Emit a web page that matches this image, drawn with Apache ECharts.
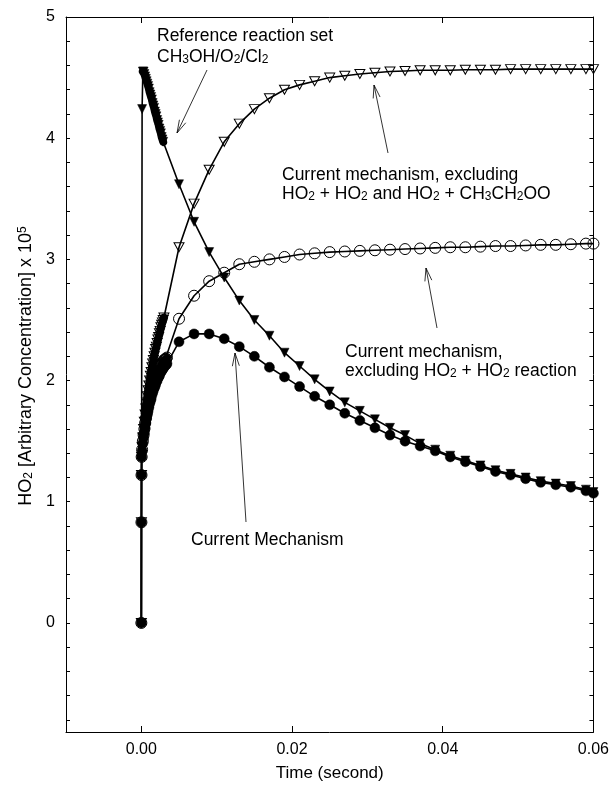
<!DOCTYPE html>
<html>
<head>
<meta charset="utf-8">
<script src="https://cdn.jsdelivr.net/npm/echarts@6/dist/echarts.min.js"></script>
<style>
html,body{margin:0;padding:0;background:#fff;}
#chart{width:612px;height:787px;}
</style>
</head>
<body>
<div id="chart"></div>
<script>
// ---------- DATA ----------
// Reference reaction set CH3OH/O2/Cl2 (filled down-triangles)
const tRef = [0, 0.0001, 0.0002,
  0.0003, 0.0004, 0.0005, 0.0006, 0.0007, 0.0008, 0.0009, 0.0010, 0.0011, 0.0012, 0.0013, 0.0014, 0.0015, 0.0016,
  0.0017, 0.0018, 0.0019, 0.0020, 0.0021, 0.0022, 0.0023, 0.0024, 0.0025, 0.0026, 0.0027, 0.0028, 0.0029,
  0.005, 0.007, 0.009, 0.011, 0.013, 0.015, 0.017, 0.019, 0.021, 0.023, 0.025, 0.027, 0.029, 0.031, 0.033, 0.035, 0.037, 0.039,
  0.041, 0.043, 0.045, 0.047, 0.049, 0.051, 0.053, 0.055, 0.057, 0.059, 0.06];
const vRef = [0, 4.24, 4.55,
  4.55, 4.53, 4.51, 4.49, 4.47, 4.45, 4.43, 4.41, 4.38, 4.36, 4.34, 4.32, 4.29, 4.27,
  4.25, 4.22, 4.20, 4.18, 4.15, 4.13, 4.11, 4.08, 4.06, 4.04, 4.01, 3.99, 3.97,
  3.62, 3.31, 3.06, 2.85, 2.66, 2.50, 2.37, 2.23, 2.12, 2.01, 1.91, 1.82, 1.75, 1.68, 1.61, 1.55, 1.48, 1.43,
  1.38, 1.34, 1.30, 1.26, 1.23, 1.20, 1.17, 1.15, 1.13, 1.10, 1.08];

// Current mechanism, excluding HO2+HO2 and HO2+CH3CH2OO (open down-triangles)
const tNoBoth = [0, 0.00001, 0.00002, 0.00004,
  0.0001, 0.0002, 0.0003, 0.0004, 0.0005, 0.0006, 0.0007, 0.0008, 0.0009, 0.0010, 0.0011, 0.0012, 0.0013, 0.0014, 0.0015,
  0.0016, 0.0017, 0.0018, 0.0019, 0.0020, 0.0021, 0.0022, 0.0023, 0.0024, 0.0025, 0.0026, 0.0027, 0.0028, 0.0029, 0.0030,
  0.005, 0.007, 0.009, 0.011, 0.013, 0.015, 0.017, 0.019, 0.021, 0.023, 0.025, 0.027, 0.029, 0.031, 0.033, 0.035, 0.037, 0.039,
  0.041, 0.043, 0.045, 0.047, 0.049, 0.051, 0.053, 0.055, 0.057, 0.059, 0.06];
const vNoBoth = [0, 0.83, 1.22, 1.37,
  1.45, 1.53, 1.60, 1.66, 1.72, 1.77, 1.82, 1.87, 1.92, 1.96, 2.00, 2.04, 2.07, 2.11, 2.14,
  2.17, 2.20, 2.23, 2.26, 2.28, 2.31, 2.34, 2.36, 2.39, 2.41, 2.44, 2.46, 2.48, 2.50, 2.52,
  3.10, 3.46, 3.74, 3.97, 4.12, 4.24, 4.33, 4.40, 4.44, 4.47, 4.50, 4.515, 4.53, 4.54, 4.55, 4.555, 4.56, 4.56,
  4.56, 4.565, 4.565, 4.565, 4.57, 4.57, 4.57, 4.57, 4.57, 4.57, 4.57];

// Current mechanism, excluding HO2+HO2 reaction (open circles)
const tNoSelf = [0, 0.00001, 0.00002, 0.00004,
  0.0001, 0.0002, 0.0003, 0.0004, 0.0005, 0.0006, 0.0007, 0.0008, 0.0009, 0.0010, 0.0011, 0.0012, 0.0013, 0.0014, 0.0015,
  0.0016, 0.0017, 0.0018, 0.0019, 0.0020, 0.0021, 0.0022, 0.0023, 0.0024, 0.0025, 0.0026, 0.0027, 0.0028, 0.0029, 0.0030,
  0.0031, 0.0032, 0.0033, 0.0034,
  0.005, 0.007, 0.009, 0.011, 0.013, 0.015, 0.017, 0.019, 0.021, 0.023, 0.025, 0.027, 0.029, 0.031, 0.033, 0.035, 0.037, 0.039,
  0.041, 0.043, 0.045, 0.047, 0.049, 0.051, 0.053, 0.055, 0.057, 0.059, 0.06];
const vNoSelf = [0, 0.83, 1.22, 1.37,
  1.43, 1.50, 1.55, 1.60, 1.65, 1.69, 1.73, 1.77, 1.80, 1.83, 1.86, 1.89, 1.91, 1.94, 1.96,
  1.98, 2.00, 2.02, 2.03, 2.05, 2.07, 2.08, 2.10, 2.11, 2.12, 2.13, 2.14, 2.15, 2.16, 2.17,
  2.17, 2.18, 2.18, 2.19,
  2.51, 2.70, 2.82, 2.89, 2.96, 2.98, 3.00, 3.02, 3.04, 3.05, 3.06, 3.065, 3.07, 3.075, 3.08, 3.085, 3.09, 3.095,
  3.10, 3.10, 3.105, 3.11, 3.11, 3.115, 3.12, 3.12, 3.125, 3.13, 3.13];

// Current Mechanism (filled circles)
const tCur = [0, 0.00001, 0.00002, 0.00004,
  0.0001, 0.0002, 0.0003, 0.0004, 0.0005, 0.0006, 0.0007, 0.0008, 0.0009, 0.0010, 0.0011, 0.0012, 0.0013, 0.0014, 0.0015,
  0.0016, 0.0017, 0.0018, 0.0019, 0.0020, 0.0021, 0.0022, 0.0023, 0.0024, 0.0025, 0.0026, 0.0027, 0.0028, 0.0029, 0.0030,
  0.0031, 0.0032, 0.0033, 0.0034,
  0.005, 0.007, 0.009, 0.011, 0.013, 0.015, 0.017, 0.019, 0.021, 0.023, 0.025, 0.027, 0.029, 0.031, 0.033, 0.035, 0.037, 0.039,
  0.041, 0.043, 0.045, 0.047, 0.049, 0.051, 0.053, 0.055, 0.057, 0.059, 0.06];
const vCur = [0, 0.83, 1.22, 1.37,
  1.42, 1.48, 1.53, 1.57, 1.61, 1.65, 1.69, 1.72, 1.75, 1.78, 1.81, 1.83, 1.85, 1.88, 1.90,
  1.92, 1.94, 1.95, 1.97, 1.99, 2.00, 2.02, 2.03, 2.04, 2.06, 2.07, 2.08, 2.09, 2.10, 2.11,
  2.12, 2.13, 2.13, 2.14,
  2.32, 2.385, 2.385, 2.345, 2.28, 2.20, 2.11, 2.03, 1.95, 1.87, 1.80, 1.73, 1.67, 1.61, 1.55, 1.50, 1.46, 1.42,
  1.37, 1.33, 1.29, 1.25, 1.22, 1.19, 1.16, 1.14, 1.12, 1.09, 1.07];

// Axis ticks / labels
const xLabelValues = [0, 0.02, 0.04, 0.06];
const xTickValues = [0, 0.02, 0.04, 0.06];
const yLabelValues = [0, 1, 2, 3, 4, 5];
const yTickValues = [-0.8, -0.6, -0.4, -0.2, 0, 0.2, 0.4, 0.6, 0.8, 1, 1.2, 1.4, 1.6, 1.8, 2, 2.2, 2.4, 2.6, 2.8, 3,
  3.2, 3.4, 3.6, 3.8, 4, 4.2, 4.4, 4.6, 4.8, 5];

// ---------- CHART ----------
const FONT = '"Liberation Sans", Arial, Helvetica, sans-serif';
const pairs = (t, v) => t.map((x, i) => [x, v[i]]);

function lineSeries(name, t, v, symbol, size, filled, rotate) {
  return {
    name, type: 'line', data: pairs(t, v),
    xAxisIndex: 0, yAxisIndex: 0,
    symbol, symbolSize: size, symbolRotate: rotate || 0,
    showAllSymbol: true, smooth: false, clip: true,
    lineStyle: { color: '#000', width: 1.6 },
    itemStyle: filled
      ? { color: '#000', borderColor: '#000', borderWidth: 0.5 }
      : { color: 'rgba(255,255,255,0)', borderColor: '#000', borderWidth: 1 },
    emphasis: { disabled: true },
    animation: false, z: filled ? 3 : 2
  };
}
// Dense early-time output: overlapping markers form a solid black band
function bandSeries(t, v, from, to, width) {
  return {
    type: 'line', data: pairs(t, v).slice(from, to),
    xAxisIndex: 0, yAxisIndex: 0, symbol: 'none', silent: true,
    lineStyle: { color: '#000', width: width, cap: 'round', join: 'round' },
    emphasis: { disabled: true }, animation: false, z: 4
  };
}

const axisCommon = {
  type: 'value',
  axisLine: { show: true, onZero: false, lineStyle: { color: '#000', width: 1 } },
  splitLine: { show: false }
};

function richFor(size) {
  const sub = Math.round(size * 0.68);
  return {
    s: { fontSize: sub, fontFamily: FONT, verticalAlign: 'bottom', lineHeight: 6, fill: '#000', color: '#000' },
    p: { fontSize: sub, fontFamily: FONT, verticalAlign: 'top', lineHeight: 6, fill: '#000', color: '#000' }
  };
}

const chart = echarts.init(document.getElementById('chart'), null, { renderer: 'canvas' });

const option = {
  backgroundColor: '#fff',
  animation: false,
  grid: { left: 66, right: 17, top: 17, bottom: 47, containLabel: false },
  xAxis: [
    Object.assign({}, axisCommon, {
      position: 'bottom', min: -0.01, max: 0.06,
      axisTick: { show: true, inside: true, length: 6, customValues: xTickValues, lineStyle: { color: '#000' } },
      axisLabel: { show: true, customValues: xLabelValues, color: '#000', fontSize: 16, fontFamily: FONT, margin: 10,
        formatter: v => v.toFixed(2) },
      name: 'Time (second)', nameLocation: 'middle', nameGap: 33,
      nameTextStyle: { color: '#000', fontSize: 17, fontFamily: FONT }
    }),
    Object.assign({}, axisCommon, {
      position: 'top', min: -0.01, max: 0.06,
      axisTick: { show: true, inside: true, length: 6, customValues: xTickValues, lineStyle: { color: '#000' } },
      axisLabel: { show: false }
    })
  ],
  yAxis: [
    Object.assign({}, axisCommon, {
      position: 'left', min: -0.9, max: 5,
      axisTick: { show: true, inside: true, length: 4, customValues: yTickValues, lineStyle: { color: '#000' } },
      axisLabel: { show: true, customValues: yLabelValues, color: '#000', fontSize: 16, fontFamily: FONT, margin: 11,
        formatter: v => String(Math.round(v)) }
    }),
    Object.assign({}, axisCommon, {
      position: 'right', min: -0.9, max: 5,
      axisTick: { show: true, inside: true, length: 4, customValues: yTickValues, lineStyle: { color: '#000' } },
      axisLabel: { show: false }
    })
  ],
  series: [
    lineSeries('Current mechanism, excluding HO2 + HO2 and HO2 + CH3CH2OO', tNoBoth, vNoBoth, 'triangle', [10, 9], false, 180),
    lineSeries('Current mechanism, excluding HO2 + HO2 reaction', tNoSelf, vNoSelf, 'circle', 11, false),
    lineSeries('Reference reaction set CH3OH/O2/Cl2', tRef, vRef, 'triangle', [9, 9], true, 180),
    lineSeries('Current Mechanism', tCur, vCur, 'circle', 10, true),
    bandSeries(tRef, vRef, 2, 30, 8),
    bandSeries(tNoBoth, vNoBoth, 3, 34, 8),
    bandSeries(tNoSelf, vNoSelf, 3, 38, 7),
    bandSeries(tCur, vCur, 3, 38, 7)
  ]
};
chart.setOption(option);

// ---------- ANNOTATIONS (text + open arrows) ----------
const ANN_SIZE = 17.5;
const annotations = [
  { lines: ['Reference reaction set', 'CH{s|3}OH/O{s|2}/Cl{s|2}'], x: 157, y: 36, dy: 21, tail: [207, 70], head: [177, 133] },
  { lines: ['Current mechanism, excluding', 'HO{s|2} + HO{s|2} and HO{s|2} + CH{s|3}CH{s|2}OO'], x: 282, y: 175, dy: 19, tail: [388, 153], head: [374, 85] },
  { lines: ['Current mechanism,', 'excluding HO{s|2} + HO{s|2} reaction'], x: 345, y: 352, dy: 19, tail: [437, 328], head: [426, 268] },
  { lines: ['Current Mechanism'], x: 191, y: 540, dy: 19, tail: [246, 522], head: [235, 353] }
];

const graphics = [];
annotations.forEach(a => {
  a.lines.forEach((ln, i) => {
    graphics.push({
      type: 'text', x: a.x, y: a.y + i * a.dy, z: 10,
      style: {
        text: ln, fill: '#000', font: ANN_SIZE + 'px ' + FONT,
        align: 'left', verticalAlign: 'middle', rich: richFor(ANN_SIZE)
      }
    });
  });
  const [tx, ty] = a.tail, [hx, hy] = a.head;
  const dx = hx - tx, dy = hy - ty, L = Math.hypot(dx, dy);
  const ux = dx / L, uy = dy / L, px = -uy, py = ux;
  const al = 13, aw = 3.5;
  graphics.push({ type: 'line', z: 10, shape: { x1: tx, y1: ty, x2: hx, y2: hy }, style: { stroke: '#000', lineWidth: 0.8 } });
  graphics.push({ type: 'polyline', z: 10, shape: { points: [
      [hx - ux * al + px * aw, hy - uy * al + py * aw], [hx, hy], [hx - ux * al - px * aw, hy - uy * al - py * aw]] },
    style: { stroke: '#000', lineWidth: 0.8, fill: null } });
});

// Y axis title (rotated, reads bottom to top)
graphics.push({
  type: 'text', x: 26, y: 366, rotation: Math.PI / 2, z: 10,
  style: {
    text: 'HO{s|2} [Arbitrary Concentration] x 10{p|5}', fill: '#000', font: '18px ' + FONT,
    align: 'center', verticalAlign: 'middle', rich: richFor(18)
  }
});
chart.setOption({ graphic: graphics });
</script>
</body>
</html>
